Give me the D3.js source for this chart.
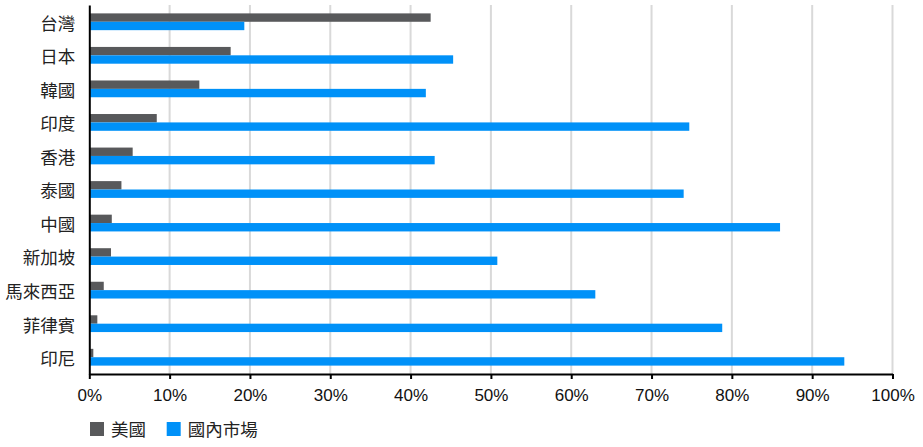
<!DOCTYPE html>
<html>
<head>
<meta charset="utf-8">
<script src="https://cdn.jsdelivr.net/npm/d3@7"></script>
<style>
  html, body { margin: 0; padding: 0; background: #fff; }
  svg { display: block; font-family: "Liberation Sans", Arial, "Noto Sans CJK TC", sans-serif; }
</style>
</head>
<body>
<svg id="chart" width="923" height="447"></svg>
<script>
const categories = ["台灣", "日本", "韓國", "印度", "香港", "泰國", "中國", "新加坡", "馬來西亞", "菲律賓", "印尼"];
const usValues = [42.5, 17.6, 13.7, 8.4, 5.4, 4.0, 2.8, 2.7, 1.8, 1.0, 0.5];
const domesticValues = [19.3, 45.3, 41.9, 74.7, 43.0, 74.0, 86.0, 50.8, 63.0, 78.8, 94.0];
const seriesNames = ["美國", "國內市場"];
const xTicks = [0, 10, 20, 30, 40, 50, 60, 70, 80, 90, 100];

const colors = ["#58595b", "#0091f8"];
const svg = d3.select("#chart");
const margin = { left: 89.3, right: 30.5, top: 5, bottom: 73 };
const W = 923, H = 447;

const x = d3.scaleLinear().domain([0, 100]).range([margin.left, W - margin.right]);
const y = d3.scaleBand().domain(categories).range([margin.top, H - margin.bottom])
  .paddingInner(0.5).paddingOuter(0.25);
const sub = d3.scaleBand().domain([0, 1]).range([0, y.bandwidth()]);

// gridlines
svg.append("g").selectAll("line").data(xTicks.filter(d => d > 0)).join("line")
  .attr("x1", d => x(d)).attr("x2", d => x(d))
  .attr("y1", margin.top).attr("y2", H - margin.bottom)
  .attr("stroke", "#d9d9d9").attr("stroke-width", 2);

// bars
const series = [usValues, domesticValues];
series.forEach((vals, si) => {
  svg.append("g").selectAll("rect").data(categories).join("rect")
    .attr("x", x(0))
    .attr("y", (c) => y(c) + sub(si))
    .attr("width", (c, i) => x(vals[i]) - x(0))
    .attr("height", sub.bandwidth())
    .attr("fill", colors[si]);
});

// x axis
const xAxis = svg.append("g")
  .attr("transform", `translate(0,${H - margin.bottom})`)
  .call(d3.axisBottom(x).tickValues(xTicks).tickFormat(d => d + "%").tickSize(5).tickSizeOuter(0));
xAxis.select(".domain").attr("stroke", "#000").attr("stroke-width", 2);
xAxis.selectAll(".tick line").attr("stroke", "#000").attr("stroke-width", 2);
xAxis.selectAll(".tick text").attr("font-size", 17).attr("fill", "#111").attr("dy", "1.1em")
  .attr("font-family", "Liberation Sans, Arial, sans-serif");

// y axis
const yAxis = svg.append("g")
  .attr("transform", `translate(${x(0)},0)`)
  .call(d3.axisLeft(y).tickSize(0).tickPadding(14));
yAxis.select(".domain").attr("stroke", "#000").attr("stroke-width", 2);
yAxis.selectAll(".tick text").attr("font-size", 17.5).attr("fill", "#222").attr("dy", "0.45em")
  .attr("font-family", "Noto Sans CJK TC, sans-serif");

// legend
const legend = svg.append("g").attr("transform", `translate(90,422)`);
const legendX = [0, 76.7];
seriesNames.forEach((n, i) => {
  const g = legend.append("g").attr("transform", `translate(${legendX[i]},0)`);
  g.append("rect").attr("width", 14).attr("height", 14).attr("fill", colors[i]);
  g.append("text").attr("x", 21).attr("y", 7).attr("dy", "0.4em")
    .attr("font-size", 17.5).attr("fill", "#222")
    .attr("font-family", "Noto Sans CJK TC, sans-serif").text(n);
});
</script>
</body>
</html>
